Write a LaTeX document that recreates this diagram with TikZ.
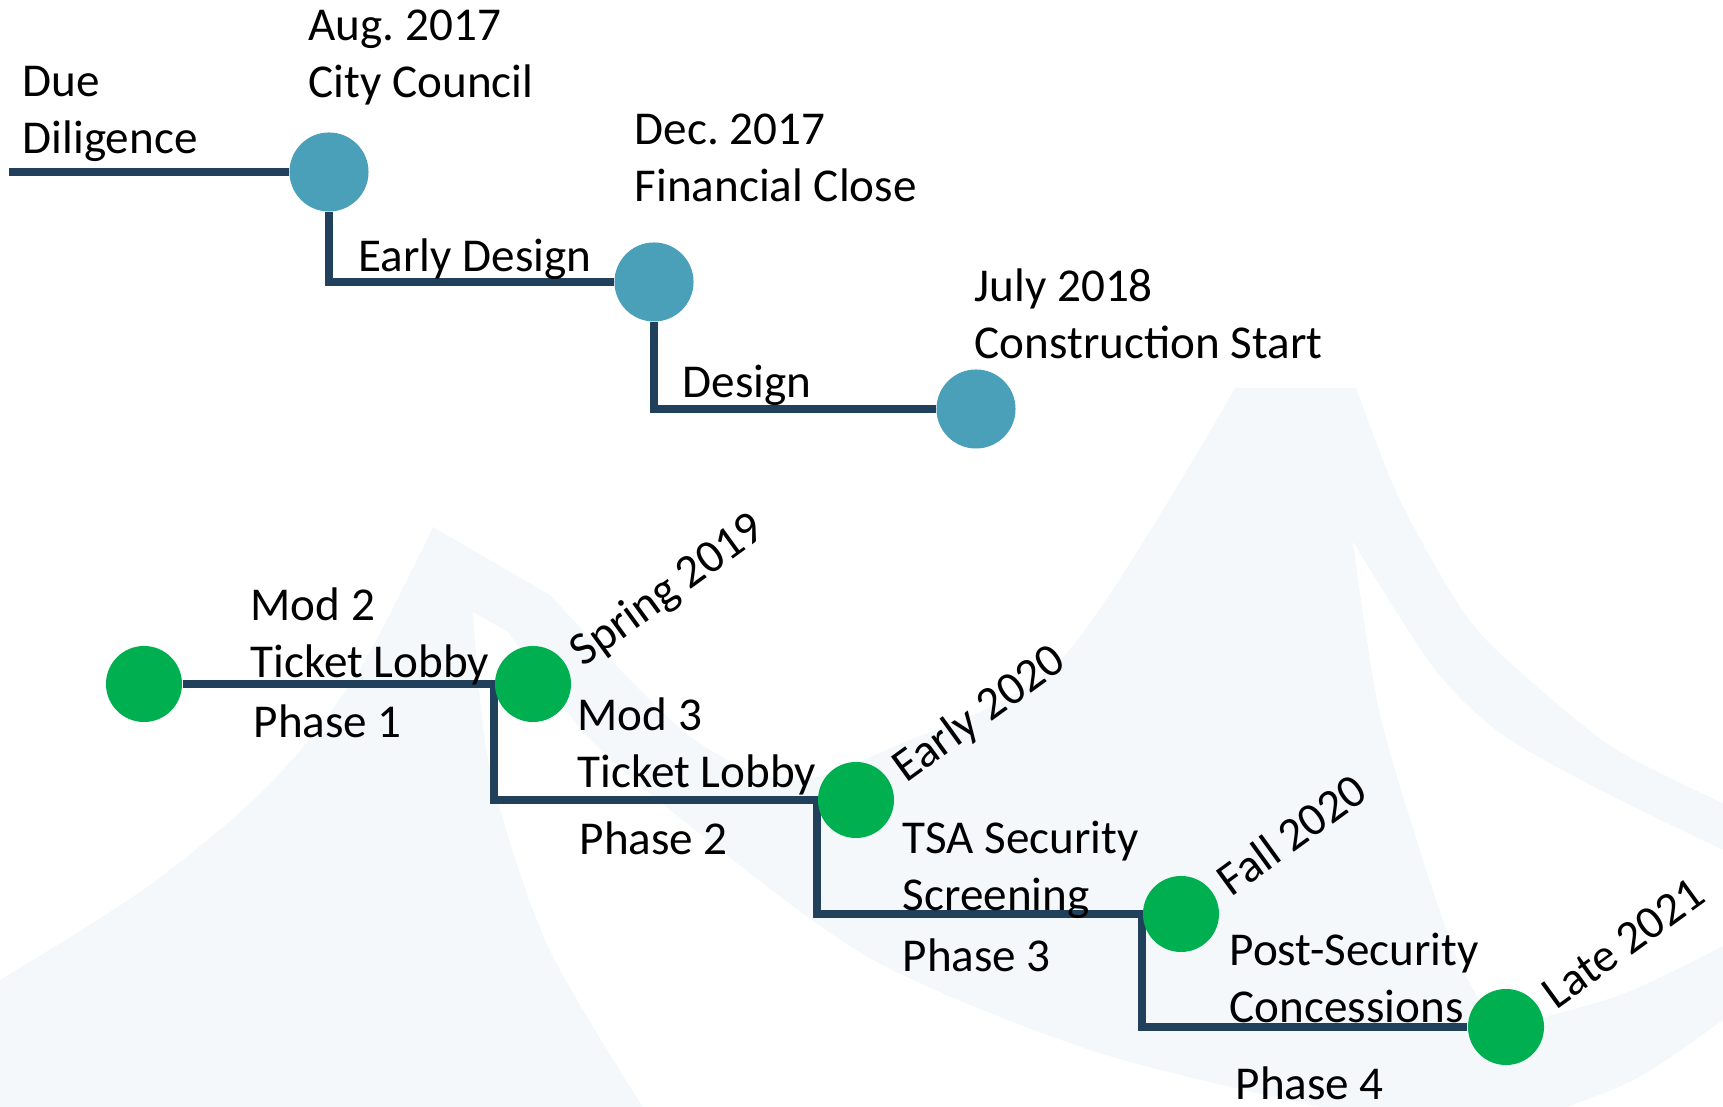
\documentclass[tikz,border=0pt]{standalone}
\usepackage{fontspec}
\setmainfont{Carlito}

\definecolor{trackblue}{RGB}{32,64,91}
\definecolor{pinblue}{RGB}{74,160,185}
\definecolor{pingreen}{RGB}{0,176,80}
\definecolor{tentgray}{RGB}{244,248,250}

\pgfdeclarelayer{tents}
\pgfdeclarelayer{tracks}
\pgfsetlayers{tents,tracks,main}

\tikzset{
  milestone/.style={circle, inner sep=0pt, minimum size=0.79cm, fill=pinblue},
  phasepin/.style={circle, inner sep=0pt, minimum size=0.76cm, fill=pingreen},
  track/.style={draw=trackblue, line width=2.3pt, line join=miter},
  lbl/.style={anchor=base west, inner sep=0pt, align=left, font=\fontsize{13.4}{16.4}\selectfont},
  datelbl/.style={lbl, rotate=36},
}

\begin{document}
\begin{tikzpicture}[x=0.01cm, y=-0.01cm]
            \useasboundingbox (0,0) rectangle (1723,1107);

            % Tents in the back
            \begin{pgfonlayer}{tents}
            \fill[tentgray] (0,1107) -- plot[smooth] coordinates {(0,980) (147,887) (268,786) (357,674) (433,527)}
                -- (550,595) -- plot[smooth] coordinates {(550,595) (687,734) (790,780) (893,747) (1063,657) (1235,388)}
                -- (1356,388) -- plot[smooth] coordinates {(1356,388) (1400,500) (1467,617) (1533,683) (1617,750) (1723,803)}
                -- (1723,1107) -- cycle;
            % Left tent cut
            \fill[white] plot[smooth] coordinates {(643,1107) (547,944) (490,769) (473,612)}
                -- (508,632) -- plot[smooth] coordinates {(508,632) (589,738) (695,830) (873,960) (1096,1052) (1320,1107)}
                -- cycle;
            % Right tent cut
            \fill[white] plot[smooth] coordinates {(1497,1029) (1458,960) (1418,844) (1378,705) (1353,542)}
                -- plot[smooth] coordinates {(1353,542) (1433,667) (1500,733) (1600,790) (1723,850)}
                -- (1723,946) -- plot[smooth] coordinates {(1723,946) (1620,995) (1497,1029)} -- cycle;
            % Corner cut
            \fill[white] (1723,1107) -- (1567,1107) .. controls (1640,1080) .. (1723,1020) -- cycle;
            \end{pgfonlayer}

            % Design milestones
            \coordinate (origin) at (9,172);
            \node[milestone] (council) at (329,172) {};
            \node[milestone] (close) at (654,282) {};
            \node[milestone] (build) at (976,409) {};

            \begin{pgfonlayer}{tracks}
            \draw[track] (origin) -- (council) |- (close) |- (build);
            \end{pgfonlayer}

            % (two-line labels sit on their last baseline)
            \node[lbl] (duedil) at (22,154) {Due\\Diligence};
            \node[lbl] (aug) at (308,98) {Aug.\ 2017\\City Council};
            \node[lbl] (earlydes) at (358,272) {Early Design};
            \node[lbl] (dec) at (634,202) {Dec.\ 2017\\Financial Close};
            \node[lbl] (des) at (682,398) {Design};
            \node[lbl] (july) at (974,359) {July 2018\\Construction Start};

            % Construction phases
            \node[phasepin] (mod2) at (144,684) {};
            \node[phasepin] (mod3) at (533,684) {};
            \node[phasepin] (tsa) at (856,800) {};
            \node[phasepin] (post) at (1181,914) {};
            \node[phasepin] (late) at (1506,1027) {};

            \begin{pgfonlayer}{tracks}
            \draw[track] (mod2) -- (mod3.west) |- (tsa.west) |- (post.west) |- (late.west);
            \end{pgfonlayer}

            \node[lbl] (lobby2) at (250,678) {Mod 2\\Ticket Lobby};
            \node[lbl] (ph1) at (253,738) {Phase 1};
            \node[lbl] (lobby3) at (577,788) {Mod 3\\Ticket Lobby};
            \node[lbl] (ph2) at (579,855) {Phase 2};
            \node[lbl] (screen) at (902,911) {TSA Security\\Screening};
            \node[lbl] (ph3) at (902,972) {Phase 3};
            \node[lbl] (conc) at (1229,1023) {Post-Security\\Concessions};
            \node[lbl] (ph4) at (1235,1100) {Phase 4};

            % Dates
            \node[datelbl] (d19) at ([shift={(50,-16)}]mod3.center) {Spring 2019};
            \node[datelbl] (d20a) at ([shift={(50,-16)}]tsa.center) {Early 2020};
            \node[datelbl] (d20b) at ([shift={(50,-16)}]post.center) {Fall 2020};
            \node[datelbl] (d21) at ([shift={(50,-16)}]late.center) {Late 2021};

\end{tikzpicture}
\end{document}
